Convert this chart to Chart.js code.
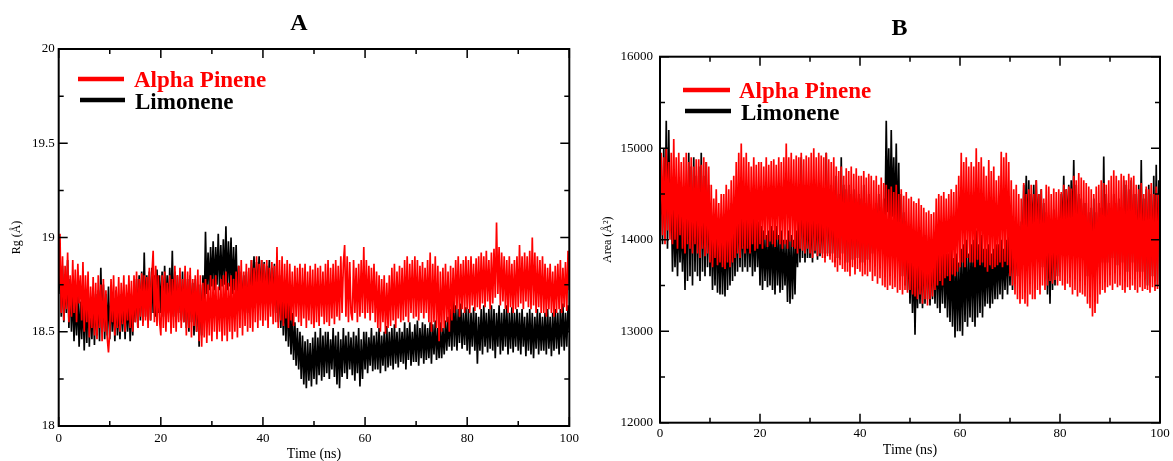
<!DOCTYPE html>
<html>
<head>
<meta charset="utf-8">
<script src="https://cdn.jsdelivr.net/npm/chart.js"></script>
<style>
html, body { margin: 0; padding: 0; background: #ffffff; }
#wrap { position: relative; width: 1173px; height: 461px; overflow: hidden; background: #ffffff; }
canvas { position: absolute; top: 0; }
#chartA { left: 0; }
#chartB { left: 590px; }
</style>
</head>
<body>
<div id="wrap">
  <canvas id="chartA" width="590" height="461"></canvas>
  <canvas id="chartB" width="620" height="461"></canvas>
</div>
<script>
// ---------------- DATA ----------------
const timeStepNs = 0.25; // sampling step of the series below (ns)

// Panel A : radius of gyration Rg (Å)
const rgAlphaPinene = [
  18.75, 19.02, 18.6, 18.9, 18.56, 18.85, 18.62, 18.92, 18.55, 18.8,
  18.58, 18.88, 18.6, 18.83, 18.55, 18.86, 18.65, 18.8, 18.56, 18.87,
  18.5, 18.8, 18.55, 18.82, 18.47, 18.74, 18.52, 18.79, 18.48, 18.76,
  18.46, 18.8, 18.52, 18.75, 18.45, 18.78, 18.5, 18.72, 18.47, 18.39,
  18.5, 18.78, 18.55, 18.8, 18.48, 18.74, 18.52, 18.79, 18.5, 18.76,
  18.54, 18.8, 18.5, 18.75, 18.56, 18.8, 18.52, 18.77, 18.5, 18.8,
  18.55, 18.82, 18.52, 18.78, 18.58, 18.81, 18.53, 18.8, 18.56, 18.79,
  18.52, 18.84, 18.56, 18.8, 18.93, 18.55, 18.85, 18.53, 18.8, 18.56,
  18.48, 18.8, 18.52, 18.82, 18.5, 18.76, 18.55, 18.8, 18.49, 18.78,
  18.52, 18.85, 18.5, 18.8, 18.55, 18.84, 18.52, 18.78, 18.55, 18.85,
  18.48, 18.82, 18.52, 18.84, 18.47, 18.78, 18.53, 18.8, 18.5, 18.83,
  18.45, 18.8, 18.42, 18.76, 18.47, 18.78, 18.44, 18.75, 18.48, 18.8,
  18.45, 18.78, 18.5, 18.8, 18.46, 18.74, 18.5, 18.78, 18.45, 18.8,
  18.48, 18.82, 18.45, 18.76, 18.5, 18.8, 18.46, 18.78, 18.5, 18.82,
  18.47, 18.85, 18.52, 18.88, 18.48, 18.82, 18.53, 18.86, 18.5, 18.84,
  18.52, 18.88, 18.5, 18.84, 18.55, 18.9, 18.52, 18.86, 18.56, 18.88,
  18.53, 18.86, 18.56, 18.88, 18.52, 18.84, 18.58, 18.87, 18.54, 18.85,
  18.55, 18.95, 18.52, 18.88, 18.56, 18.9, 18.53, 18.86, 18.57, 18.88,
  18.52, 18.86, 18.56, 18.82, 18.53, 18.85, 18.58, 18.84, 18.55, 18.86,
  18.53, 18.84, 18.57, 18.86, 18.52, 18.82, 18.56, 18.85, 18.54, 18.83,
  18.52, 18.86, 18.55, 18.84, 18.53, 18.85, 18.58, 18.82, 18.54, 18.86,
  18.55, 18.88, 18.53, 18.84, 18.57, 18.86, 18.54, 18.88, 18.58, 18.85,
  18.56, 18.9, 18.6, 18.86, 18.96, 18.58, 18.9, 18.55, 18.87, 18.6,
  18.56, 18.88, 18.6, 18.84, 18.55, 18.86, 18.58, 18.88, 18.6, 18.95,
  18.57, 18.88, 18.6, 18.85, 18.56, 18.84, 18.6, 18.86, 18.55, 18.82,
  18.52, 18.8, 18.5, 18.78, 18.55, 18.8, 18.49, 18.76, 18.52, 18.8,
  18.53, 18.84, 18.56, 18.86, 18.52, 18.82, 18.57, 18.85, 18.55, 18.84,
  18.56, 18.88, 18.58, 18.9, 18.55, 18.86, 18.6, 18.88, 18.57, 18.9,
  18.58, 18.88, 18.56, 18.85, 18.6, 18.87, 18.57, 18.84, 18.6, 18.88,
  18.55, 18.92, 18.5, 18.86, 18.55, 18.9, 18.52, 18.85, 18.45, 18.82,
  18.5, 18.84, 18.52, 18.86, 18.55, 18.82, 18.5, 18.85, 18.56, 18.84,
  18.6, 18.88, 18.62, 18.9, 18.58, 18.86, 18.62, 18.88, 18.6, 18.9,
  18.62, 18.88, 18.6, 18.9, 18.64, 18.86, 18.61, 18.89, 18.63, 18.9,
  18.62, 18.92, 18.65, 18.9, 18.63, 18.93, 18.66, 18.88, 18.62, 18.92,
  18.65, 18.94, 18.68, 19.08, 18.7, 18.95, 18.64, 18.92, 18.66, 18.9,
  18.62, 18.88, 18.6, 18.9, 18.63, 18.86, 18.6, 18.88, 18.62, 18.9,
  18.63, 18.96, 18.65, 18.9, 18.62, 18.92, 18.66, 18.9, 18.63, 18.93,
  18.62, 19.0, 18.64, 18.92, 18.6, 18.9, 18.63, 18.88, 18.6, 18.9,
  18.6, 18.86, 18.58, 18.84, 18.62, 18.86, 18.6, 18.82, 18.58, 18.85,
  18.6, 18.86, 18.62, 18.88, 18.6, 18.84, 18.63, 18.87, 18.61, 18.93,
  18.72
];
const rgLimonene = [
  18.7, 18.9, 18.58, 18.85, 18.55, 18.8, 18.6, 18.88, 18.52, 18.78,
  18.5, 18.72, 18.45, 18.68, 18.48, 18.7, 18.42, 18.66, 18.46, 18.7,
  18.4, 18.7, 18.44, 18.74, 18.42, 18.68, 18.46, 18.72, 18.43, 18.7,
  18.48, 18.72, 18.45, 18.84, 18.5, 18.75, 18.46, 18.7, 18.48, 18.74,
  18.46, 18.7, 18.5, 18.68, 18.45, 18.72, 18.48, 18.66, 18.46, 18.7,
  18.5, 18.72, 18.46, 18.68, 18.5, 18.7, 18.45, 18.66, 18.48, 18.72,
  18.55, 18.78, 18.52, 18.8, 18.56, 18.82, 18.55, 18.92, 18.58, 18.8,
  18.6, 18.82, 18.56, 18.84, 18.6, 18.8, 18.58, 18.83, 18.6, 18.8,
  18.6, 18.82, 18.58, 18.85, 18.62, 18.8, 18.6, 18.84, 18.62, 18.93,
  18.58, 18.82, 18.55, 18.8, 18.6, 18.78, 18.56, 18.82, 18.55, 18.8,
  18.52, 18.78, 18.5, 18.8, 18.55, 18.76, 18.48, 18.78, 18.5, 18.75,
  18.42, 18.75, 18.48, 18.8, 18.6, 19.03, 18.7, 18.92, 18.72, 18.95,
  18.74, 18.98, 18.72, 18.95, 18.75, 19.02, 18.72, 18.96, 18.74, 18.99,
  18.75, 19.06, 18.72, 18.98, 18.74, 19.0, 18.7, 18.95, 18.72, 18.96,
  18.65, 18.85, 18.6, 18.82, 18.62, 18.8, 18.58, 18.82, 18.6, 18.78,
  18.66, 18.88, 18.7, 18.9, 18.68, 18.87, 18.7, 18.9, 18.67, 18.88,
  18.68, 18.87, 18.66, 18.85, 18.7, 18.88, 18.65, 18.84, 18.66, 18.86,
  18.6, 18.82, 18.55, 18.8, 18.52, 18.75, 18.48, 18.72, 18.45, 18.7,
  18.42, 18.64, 18.38, 18.6, 18.35, 18.55, 18.32, 18.52, 18.3, 18.5,
  18.25, 18.48, 18.22, 18.45, 18.2, 18.46, 18.24, 18.44, 18.21, 18.47,
  18.25, 18.5, 18.22, 18.47, 18.27, 18.52, 18.24, 18.48, 18.26, 18.5,
  18.28, 18.5, 18.25, 18.46, 18.3, 18.52, 18.26, 18.48, 18.22, 18.5,
  18.2, 18.46, 18.26, 18.52, 18.28, 18.48, 18.25, 18.5, 18.3, 18.47,
  18.27, 18.5, 18.24, 18.48, 18.28, 18.52, 18.21, 18.46, 18.25, 18.5,
  18.3, 18.5, 18.28, 18.47, 18.32, 18.52, 18.29, 18.48, 18.3, 18.5,
  18.3, 18.52, 18.28, 18.48, 18.32, 18.5, 18.29, 18.53, 18.31, 18.5,
  18.32, 18.52, 18.3, 18.54, 18.33, 18.5, 18.31, 18.52, 18.34, 18.5,
  18.33, 18.55, 18.3, 18.52, 18.35, 18.55, 18.32, 18.5, 18.34, 18.54,
  18.34, 18.56, 18.32, 18.52, 18.36, 18.55, 18.33, 18.54, 18.35, 18.52,
  18.36, 18.55, 18.33, 18.54, 18.38, 18.56, 18.35, 18.52, 18.36, 18.55,
  18.36, 18.52, 18.38, 18.56, 18.4, 18.58, 18.42, 18.62, 18.4, 18.68,
  18.42, 18.64, 18.4, 18.62, 18.44, 18.65, 18.41, 18.6, 18.43, 18.63,
  18.4, 18.62, 18.38, 18.6, 18.42, 18.63, 18.4, 18.6, 18.33, 18.58,
  18.4, 18.62, 18.38, 18.64, 18.42, 18.6, 18.39, 18.62, 18.41, 18.64,
  18.4, 18.62, 18.36, 18.6, 18.42, 18.64, 18.38, 18.6, 18.4, 18.62,
  18.42, 18.64, 18.38, 18.6, 18.41, 18.63, 18.39, 18.6, 18.42, 18.62,
  18.4, 18.6, 18.38, 18.62, 18.42, 18.58, 18.37, 18.6, 18.4, 18.62,
  18.38, 18.6, 18.36, 18.58, 18.41, 18.62, 18.38, 18.6, 18.4, 18.58,
  18.4, 18.6, 18.38, 18.62, 18.41, 18.58, 18.37, 18.6, 18.4, 18.62,
  18.41, 18.6, 18.38, 18.62, 18.42, 18.65, 18.4, 18.6, 18.42, 18.64,
  18.5
];

// Panel B : surface area (Å²)
const areaAlphaPinene = [
  14300, 14950, 14050, 14900, 13950, 15000, 14100, 14850, 14000, 14950,
  13950, 15100, 14000, 14900, 13900, 14950, 14050, 14850, 13900, 14900,
  13850, 14950, 13950, 14850, 13900, 14900, 13850, 14800, 13950, 14880,
  13850, 14880, 13800, 14820, 13900, 14900, 13820, 14850, 13850, 14800,
  13750, 14600, 13700, 14450, 13800, 14550, 13720, 14400, 13750, 14500,
  13700, 14500, 13680, 14600, 13750, 14550, 13700, 14650, 13750, 14700,
  13800, 14850, 13850, 14950, 13800, 15050, 13900, 14900, 13850, 14950,
  13900, 14850, 13850, 14800, 13950, 14900, 13880, 14820, 13900, 14850,
  13950, 14850, 13900, 14800, 14000, 14900, 13920, 14820, 13980, 14860,
  13950, 14880, 13920, 14820, 14000, 14900, 13950, 14850, 13900, 14900,
  13950, 15050, 13900, 14900, 13980, 14950, 13920, 14880, 13900, 14920,
  13850, 14900, 13900, 14950, 13880, 14880, 13850, 14920, 13900, 14900,
  13850, 14950, 13800, 15000, 13880, 14900, 13820, 14950, 13850, 14920,
  13800, 14900, 13750, 14950, 13820, 14880, 13780, 14850, 13750, 14900,
  13700, 14800, 13650, 14750, 13720, 14800, 13680, 14700, 13650, 14780,
  13650, 14750, 13600, 14800, 13700, 14720, 13620, 14780, 13680, 14700,
  13650, 14700, 13600, 14750, 13620, 14680, 13600, 14720, 13650, 14700,
  13550, 14650, 13600, 14700, 13520, 14600, 13580, 14680, 13500, 14620,
  13480, 14600, 13450, 14550, 13500, 14580, 13460, 14520, 13480, 14600,
  13420, 14500, 13450, 14550, 13400, 14480, 13450, 14520, 13420, 14450,
  13450, 14470, 13400, 14420, 13380, 14400, 13350, 14450, 13400, 14380,
  13300, 14350, 13350, 14300, 13280, 14320, 13350, 14280, 13380, 14300,
  13450, 14450, 13500, 14500, 13550, 14480, 13500, 14520, 13580, 14450,
  13600, 14500, 13550, 14550, 13620, 14520, 13600, 14600, 13650, 14700,
  13700, 14950, 13750, 14850, 13700, 14900, 13800, 14800, 13750, 14850,
  13750, 14800, 13700, 15000, 13780, 14850, 13720, 14900, 13750, 14800,
  13700, 14700, 13650, 14870, 13720, 14750, 13680, 14800, 13700, 14650,
  13720, 14700, 13750, 14960, 13700, 14900, 13760, 14950, 13720, 14850,
  13600, 14650, 13500, 14550, 13400, 14600, 13350, 14500, 13300, 14450,
  13350, 14620, 13300, 14500, 13270, 14550, 13400, 14600, 13350, 14500,
  13350, 14650, 13450, 14500, 13400, 14550, 13500, 14450, 13450, 14600,
  13500, 14580, 13550, 14500, 13520, 14560, 13560, 14520, 13500, 14550,
  13550, 14520, 13500, 14600, 13450, 14550, 13520, 14580, 13480, 14560,
  13400, 14700, 13450, 14650, 13380, 14730, 13420, 14680, 13400, 14650,
  13380, 14620, 13300, 14580, 13250, 14550, 13160, 14500, 13200, 14580,
  13300, 14600, 13400, 14650, 13450, 14620, 13420, 14600, 13480, 14650,
  13500, 14700, 13450, 14760, 13520, 14700, 13480, 14650, 13500, 14720,
  13450, 14700, 13420, 14650, 13480, 14720, 13450, 14680, 13500, 14700,
  13450, 14600, 13420, 14550, 13480, 14620, 13440, 14500, 13460, 14580,
  13450, 14550, 13420, 14620, 13480, 14500, 13440, 14580, 13460, 14500,
  14000
];
const areaLimonene = [
  14200, 14700, 13950, 15000, 14000, 15300, 13900, 15200, 14100, 14500,
  13650, 14400, 13700, 14300, 13600, 14350, 13750, 14250, 13650, 14300,
  13450, 14600, 13550, 14950, 13600, 14800, 13500, 14900, 13650, 14700,
  13600, 14800, 13550, 14950, 13650, 14700, 13600, 14850, 13700, 14600,
  13600, 14300, 13450, 14200, 13500, 14250, 13420, 14150, 13400, 14200,
  13400, 14100, 13380, 14250, 13450, 14200, 13500, 14400, 13550, 14300,
  13600, 14400, 13650, 14600, 13700, 14450, 13650, 14500, 13700, 14350,
  13650, 14300, 13700, 14350, 13600, 14250, 13650, 14300, 13700, 14200,
  13500, 14150, 13450, 14100, 13550, 14050, 13480, 14100, 13500, 14150,
  13450, 14100, 13400, 14150, 13500, 14050, 13420, 14100, 13450, 14000,
  13500, 14000, 13320, 14100, 13300, 14050, 13350, 14000, 13400, 14100,
  13700, 14300, 13750, 14900, 13800, 14600, 13750, 14500, 13800, 14400,
  13800, 14300, 13750, 14650, 13850, 14400, 13780, 14500, 13820, 14350,
  13850, 14400, 13800, 14950, 13850, 14500, 13820, 14600, 13850, 14450,
  13750, 14700, 13800, 14500, 13780, 14900, 13850, 14600, 13800, 14550,
  13750, 14600, 13800, 14500, 13780, 14550, 13820, 14450, 13800, 14500,
  13800, 14450, 13750, 14600, 13850, 14400, 13780, 14500, 13820, 14350,
  13850, 14300, 13800, 14400, 13900, 14500, 13850, 14350, 13900, 14450,
  14200, 15300, 14300, 15000, 14150, 15200, 14250, 14900, 14200, 15050,
  14000, 14840, 13700, 14500, 13600, 14300, 13500, 14200, 13450, 14000,
  13300, 13900, 13200, 13850, 12960, 13800, 13250, 13900, 13300, 13850,
  13250, 14000, 13300, 14050, 13350, 13950, 13280, 13900, 13350, 14000,
  13300, 13950, 13250, 14000, 13200, 13900, 13300, 13950, 13250, 13850,
  13150, 13850, 13100, 13900, 13050, 13800, 12930, 13850, 13000, 13750,
  13000, 13900, 12950, 13950, 13100, 14000, 13050, 13850, 13150, 13950,
  13100, 14000, 13050, 14100, 13150, 13950, 13200, 14050, 13150, 13900,
  13270, 13900, 13300, 13950, 13250, 13850, 13300, 13900, 13350, 13950,
  13350, 13950, 13400, 14000, 13350, 13900, 13450, 14000, 13400, 14050,
  13500, 14100, 13450, 14150, 13550, 14050, 13600, 14150, 13650, 14200,
  14000, 14600, 14050, 14700, 13950, 14650, 14000, 14500, 14050, 14600,
  13950, 14650, 14000, 14500, 13900, 14550, 13700, 14400, 13600, 14300,
  13400, 14100, 13300, 14200, 13450, 14330, 13500, 14150, 13600, 14250,
  14000, 14500, 14050, 14700, 13950, 14550, 14100, 14600, 14000, 14650,
  14050, 14870, 13900, 14600, 13850, 14500, 13800, 14450, 13850, 14400,
  13700, 14400, 13600, 14300, 13560, 14350, 13650, 14450, 13600, 14300,
  13700, 14400, 13650, 14350, 13750, 14910, 13700, 14500, 13750, 14400,
  13700, 14350, 13800, 14500, 13750, 14400, 13720, 14450, 13780, 14350,
  13750, 14650, 13700, 14600, 13650, 14550, 13700, 14650, 13750, 14500,
  13700, 14500, 13650, 14600, 13600, 14870, 13650, 14450, 13600, 14550,
  13500, 14600, 13550, 14500, 13600, 14700, 13550, 14820, 13500, 14650,
  14300
];

const seriesNames = ['Alpha Pinene', 'Limonene'];
const seriesColors = ['#ff0000', '#000000'];

// tick values / labels
const xMajorTicks = [0, 20, 40, 60, 80, 100];
const xMinorTicks = [10, 30, 50, 70, 90];
const rgMajorTicks = [18, 18.5, 19, 19.5, 20];
const rgMinorTicks = [18.25, 18.75, 19.25, 19.75];
const areaMajorTicks = [12000, 13000, 14000, 15000, 16000];
const areaMinorTicks = [12500, 13500, 14500, 15500];

// sampling times of the series
const timeNs = rgAlphaPinene.map((_, i) => i * timeStepNs);

// ---------------- PLUGINS ----------------
const SERIF = '"Liberation Serif", "Times New Roman", serif';

// inward ticks on all four sides + frame box
const frameTicks = {
  id: 'frameTicks',
  afterDatasetsDraw(chart, args, o) {
    const { ctx, chartArea: a } = chart;
    const xs = chart.scales.x, ys = chart.scales.y;
    ctx.save();
    ctx.strokeStyle = '#000';
    ctx.lineWidth = o.tickWidth;
    const tx = (v, len) => {
      const p = xs.getPixelForValue(v);
      ctx.beginPath();
      ctx.moveTo(p, a.bottom); ctx.lineTo(p, a.bottom - len);
      ctx.moveTo(p, a.top); ctx.lineTo(p, a.top + len);
      ctx.stroke();
    };
    const ty = (v, len) => {
      const p = ys.getPixelForValue(v);
      ctx.beginPath();
      ctx.moveTo(a.left, p); ctx.lineTo(a.left + len, p);
      ctx.moveTo(a.right, p); ctx.lineTo(a.right - len, p);
      ctx.stroke();
    };
    o.xMajor.forEach(v => tx(v, o.majorLen));
    o.xMinor.forEach(v => tx(v, o.minorLen));
    o.yMajor.forEach(v => ty(v, o.majorLen));
    o.yMinor.forEach(v => ty(v, o.minorLen));
    ctx.lineWidth = o.frameWidth;
    ctx.strokeRect(a.left, a.top, a.right - a.left, a.bottom - a.top);
    ctx.restore();
  }
};

// legend drawn inside the plot area
const insetLegend = {
  id: 'insetLegend',
  afterDraw(chart, args, o) {
    const ctx = chart.ctx;
    ctx.save();
    ctx.font = 'bold ' + o.fontSize + 'px ' + SERIF;
    ctx.textBaseline = 'alphabetic';
    ctx.textAlign = 'left';
    chart.data.datasets.forEach((ds, i) => {
      const it = o.items[i];
      ctx.strokeStyle = ds.borderColor;
      ctx.lineWidth = o.lineWidth;
      ctx.beginPath();
      ctx.moveTo(it.x1, it.y); ctx.lineTo(it.x2, it.y);
      ctx.stroke();
      ctx.fillStyle = ds.borderColor;
      ctx.fillText(ds.label, it.tx, it.ty);
    });
    ctx.restore();
  }
};

// ---------------- CHART BUILDER ----------------
function buildChart(canvas, p) {
  return new Chart(canvas, {
    type: 'line',
    data: {
      datasets: p.series.map((vals, i) => ({
        label: seriesNames[i],
        data: timeNs.map((t, k) => ({ x: t, y: vals[k] })),
        borderColor: seriesColors[i],
        backgroundColor: seriesColors[i],
        borderWidth: 1.7,
        pointRadius: 0,
        tension: 0,
        fill: false
      }))
    },
    options: {
      responsive: false,
      animation: false,
      devicePixelRatio: 1,
      layout: { padding: p.padding },
      plugins: {
        legend: { display: false },
        tooltip: { enabled: false },
        title: {
          display: true, text: p.title, color: '#000',
          font: { family: SERIF, size: 24, weight: 'bold' },
          padding: p.titlePad
        },
        frameTicks: {
          xMajor: xMajorTicks, xMinor: xMinorTicks,
          yMajor: p.yMajor, yMinor: p.yMinor,
          majorLen: 9, minorLen: 5, tickWidth: 1.5, frameWidth: 2
        },
        insetLegend: { fontSize: 23, lineWidth: 4.5, items: p.legendItems }
      },
      scales: {
        x: {
          type: 'linear', min: 0, max: 100,
          afterBuildTicks: s => { s.ticks = xMajorTicks.map(v => ({ value: v })); },
          afterFit: s => { s.height = p.xAxisHeight; },
          grid: { display: false, drawTicks: false },
          border: { display: false },
          ticks: { color: '#000', font: { family: SERIF, size: 13 }, padding: p.xTickPad, maxRotation: 0, callback: v => String(v) },
          title: { display: true, text: 'Time (ns)', color: '#000', font: { family: SERIF, size: 14 }, padding: { top: 0, bottom: p.xTitlePadBottom } }
        },
        y: {
          type: 'linear', position: 'left', min: p.yMajor[0], max: p.yMajor[p.yMajor.length - 1],
          afterBuildTicks: s => { s.ticks = p.yMajor.map(v => ({ value: v })); },
          afterFit: s => { s.width = p.yAxisWidth; },
          grid: { display: false, drawTicks: false },
          border: { display: false },
          ticks: { color: '#000', font: { family: SERIF, size: 13 }, padding: p.yTickPad, callback: v => String(v) },
          title: { display: true, text: p.yTitle, color: '#000', font: { family: SERIF, size: 12 }, padding: { top: p.yTitlePadTop, bottom: 0 } }
        },
        // empty spacer on the right (no marks), only reserves room
        ySpacer: {
          type: 'linear', position: 'right', min: 0, max: 1,
          afterFit: s => { s.width = p.rightGap; },
          grid: { display: false, drawTicks: false },
          border: { display: false },
          ticks: { display: false }
        }
      }
    },
    plugins: [frameTicks, insetLegend]
  });
}

buildChart(document.getElementById('chartA'), {
  series: [rgAlphaPinene, rgLimonene],
  title: 'A',
  titlePad: { top: 8.9, bottom: 11.3 },
  padding: { left: 28.3, right: 20.7, top: 0, bottom: 0 },
  yAxisWidth: 30.4,
  rightGap: 0,
  xAxisHeight: 35,
  xTickPad: 5.2,
  yTickPad: 4,
  xTitlePadBottom: -1.4,
  yTitlePadTop: -18.8,
  yTitle: 'Rg (Å)',
  yMajor: rgMajorTicks,
  yMinor: rgMinorTicks,
  legendItems: [
    { x1: 78, x2: 124, y: 79, tx: 134, ty: 87.3 },
    { x1: 80, x2: 125, y: 100, tx: 135, ty: 109.3 }
  ]
});

buildChart(document.getElementById('chartB'), {
  series: [areaAlphaPinene, areaLimonene],
  title: 'B',
  titlePad: { top: 13.9, bottom: 14.0 },
  padding: { left: 28, right: 28.8, top: 0, bottom: 0 },
  yAxisWidth: 42,
  rightGap: 21.2,
  xAxisHeight: 38.3,
  xTickPad: 3.5,
  yTickPad: 7,
  xTitlePadBottom: 2.6,
  yTitlePadTop: -17.2,
  yTitle: 'Area (Å²)',
  yMajor: areaMajorTicks,
  yMinor: areaMinorTicks,
  legendItems: [
    { x1: 93, x2: 140, y: 90, tx: 149, ty: 98.3 },
    { x1: 95, x2: 141, y: 111, tx: 151, ty: 120 }
  ]
});
</script>
</body>
</html>
